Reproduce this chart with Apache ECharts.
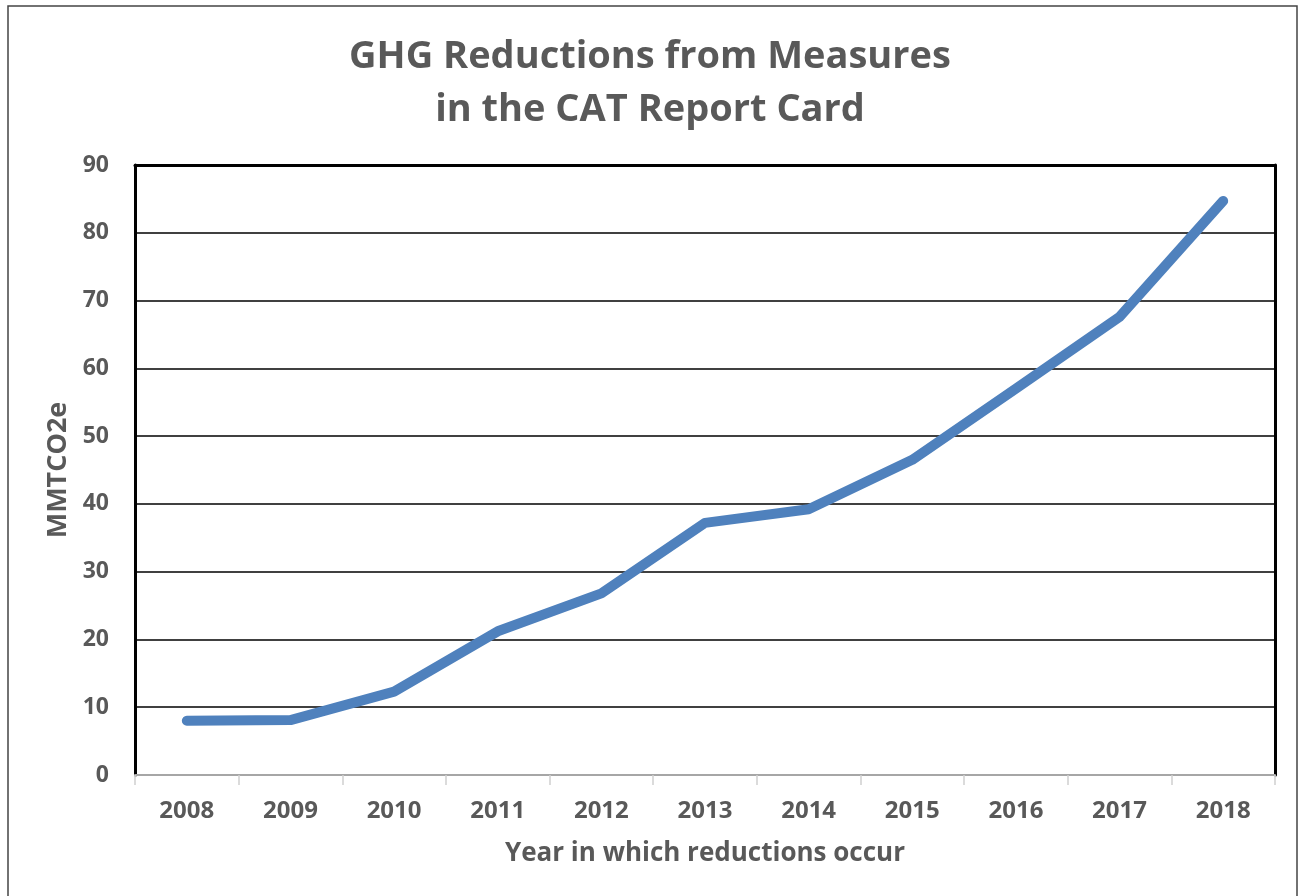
<!DOCTYPE html>
<html>
<head>
<meta charset="utf-8">
<script src="https://cdn.jsdelivr.net/npm/echarts@6/dist/echarts.min.js"></script>
<style>
  html, body { margin: 0; padding: 0; background: #fff; }
  #chart { width: 1300px; height: 896px; }
</style>
</head>
<body>
<div id="chart"></div>
<script>
const titleText = 'GHG Reductions from Measures\nin the CAT Report Card';
const xAxisName = 'Year in which reductions occur';
const yAxisName = 'MMTCO2e';
const years = ['2008', '2009', '2010', '2011', '2012', '2013', '2014', '2015', '2016', '2017', '2018'];
const reductions = [8.0, 8.1, 12.3, 21.2, 26.8, 37.2, 39.2, 46.5, 57.0, 67.6, 84.7];
const yMin = 0, yMax = 90, yStep = 10;

const FONT = '"Open Sans", Lato, sans-serif';
const GREY = '#595959';

const chart = echarts.init(document.getElementById('chart'), null, { renderer: 'canvas' });
chart.setOption({
  animation: false,
  backgroundColor: '#fff',
  title: {
    text: titleText,
    left: 'center',
    top: 26,
    textStyle: { fontFamily: FONT, fontWeight: 'bold', fontSize: 38, color: GREY, lineHeight: 53 }
  },
  graphic: [{
    type: 'rect',
    shape: { x: 8, y: 6, width: 1289, height: 900 },
    style: { fill: 'none', stroke: '#444', lineWidth: 1.5 },
    z: 100, silent: true
  }],
  grid: { left: 135, right: 25, top: 165, bottom: 121, containLabel: false },
  xAxis: [{
    type: 'category',
    data: years,
    boundaryGap: true,
    position: 'bottom',
    name: xAxisName,
    nameLocation: 'middle',
    nameGap: 66,
    nameTextStyle: { fontFamily: FONT, fontWeight: 'bold', fontSize: 26, color: GREY },
    axisLine: { show: true, lineStyle: { color: '#a6a6a6', width: 2 } },
    axisTick: { show: true, length: 10, lineStyle: { color: '#d0d0d0', width: 1.5 } },
    axisLabel: { margin: 24, fontFamily: FONT, fontWeight: 'bold', fontSize: 24, color: GREY },
    splitLine: { show: false }
  }, {
    type: 'category',
    data: years,
    position: 'top',
    axisLine: { show: true, onZero: false, lineStyle: { color: '#000', width: 3 } },
    axisTick: { show: false },
    axisLabel: { show: false },
    splitLine: { show: false }
  }],
  yAxis: [{
    type: 'value',
    min: yMin, max: yMax, interval: yStep,
    position: 'left',
    name: yAxisName,
    nameLocation: 'middle',
    nameGap: 77,
    nameRotate: 90,
    nameTextStyle: { fontFamily: FONT, fontWeight: 'bold', fontSize: 27, color: GREY, verticalAlign: 'middle' },
    axisLine: { show: true, lineStyle: { color: '#000', width: 3 } },
    axisTick: { show: false },
    axisLabel: { margin: 26, fontFamily: FONT, fontWeight: 'bold', fontSize: 23, color: GREY },
    splitLine: { show: true, lineStyle: { color: '#000', width: 1.5 } }
  }, {
    type: 'value',
    min: yMin, max: yMax, interval: yStep,
    position: 'right',
    axisLine: { show: true, lineStyle: { color: '#000', width: 3 } },
    axisTick: { show: false },
    axisLabel: { show: false },
    splitLine: { show: false }
  }],
  series: [{
    type: 'line',
    data: reductions,
    xAxisIndex: 0,
    yAxisIndex: 0,
    showSymbol: false,
    symbol: 'none',
    lineStyle: { color: '#4F81BD', width: 10, cap: 'round', join: 'round' },
    z: 5
  }]
});
</script>
</body>
</html>
